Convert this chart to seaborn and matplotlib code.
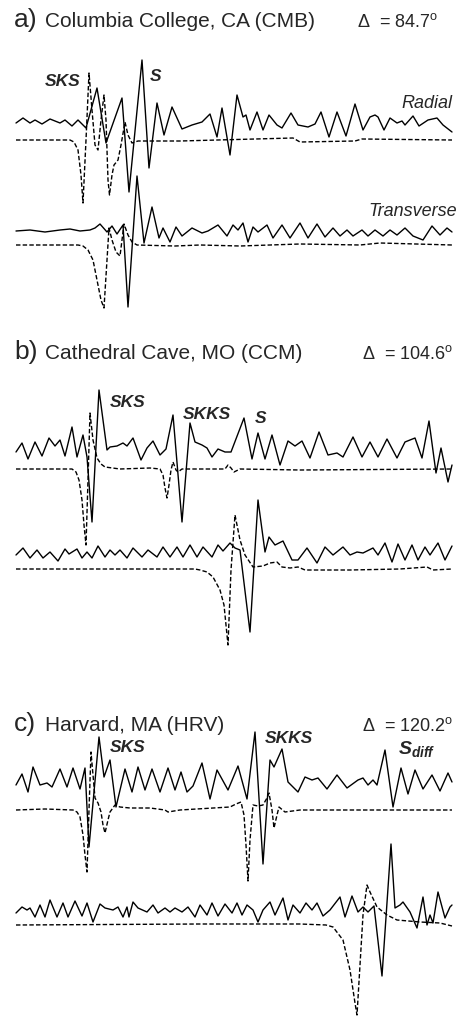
import matplotlib
matplotlib.use("Agg")
import matplotlib.pyplot as plt
import seaborn as sns

# Three-component records (radial / transverse), observed (solid) and synthetic (dashed).
# Each trace: (time sample, amplitude) pairs, amplitude positive upward.

cmb_radial_obs = [(16,0),(23,5),(30,0),(35,3),(42,-1),(50,4),(60,0),(65,3),(72,-3),(78,3),
    (83,-2),(86,-5),(97,35),(106,-20),(122,25),(129,-69),(142,63),(149,-45),(157,20),(164,-12),
    (172,16),(182,-6),(192,-2),(202,1),(210,9),(217,-14),(222,15),(230,-32),(237,28),(243,6),
    (246,8),(250,-7),(257,11),(263,-7),(269,8),(277,-2),(282,-5),(291,10),(298,-2),(308,-4),
    (315,-1),(321,11),(329,-14),(337,11),(346,-13),(355,19),(363,-7),(370,6),(375,8),(378,6),
    (384,-7),(390,5),(397,0),(402,2),(405,-2),(413,7),(419,-3),(428,3),(437,5),(443,-2),(452,-9)]
cmb_radial_syn = [(16,0),(70,0),(74,-2),(78,-10),(81,-35),(83,-63),(86,0),(89,67),(92,30),(95,-5),
    (98,-10),(101,20),(104,45),(106,20),(108,-40),(109.5,-55),(112,-35),(114,-25),(118,-20),
    (121,-5),(125,18),(128,5),(132,-3),(138,-1),(180,-1),(293,2),(300,-2),(355,-1),(362,1),(452,0)]
cmb_trans_obs = [(16,0),(30,1),(45,-1),(60,1),(70,2),(80,0),(90,1),(95,3),(100,7),(107,-1),(112,5),
    (117,-3),(123,6),(128,-76),(137,55),(144,-12),(152,24),(159,-7),(163,3),(170,-11),(176,4),
    (182,-5),(192,3),(202,-2),(208,0),(218,6),(227,-5),(233,6),(238,1),(243,8),(248,-11),(253,4),
    (258,-1),(267,6),(273,-7),(282,6),(290,-7),(300,8),(308,-7),(317,7),(325,-6),(333,3),(340,-5),
    (347,1),(353,-5),(362,1),(368,-5),(375,1),(383,-5),(390,1),(397,-4),(405,3),(413,-5),(423,-9),
    (432,5),(440,-4),(447,3),(452,-1)]
cmb_trans_syn = [(16,0),(78,0),(83,-1),(88,-5),(93,-15),(97,-35),(101,-55),(104,-63),(107,-15),
    (109,17),(112,5),(116,-7),(120,-11),(124,21),(128,10),(132,3),(137,0),(175,-1),(200,0),
    (240,-1),(300,1),(360,0),(380,2),(452,0)]

ccm_radial_obs = [(16,-2),(22,7),(28,-9),(35,8),(42,-6),(49,12),(55,4),(60,10),(65,-6),(72,23),
    (77,-7),(83,15),(87,-7),(92,-72),(99,60),(107,0),(110,3),(117,4),(123,7),(127,4),(133,12),
    (141,-10),(147,2),(153,9),(160,-5),(166,1),(173,35),(182,-72),(190,27),(195,8),(202,5),(207,2),
    (212,-7),(218,1),(225,-2),(231,-2),(244,32),(252,-9),(258,17),(265,-9),(272,15),(280,-15),
    (288,9),(295,4),(302,9),(310,-8),(319,18),(328,-5),(337,-3),(343,-7),(353,13),(362,-7),(370,8),
    (378,-7),(387,11),(397,-8),(405,8),(410,10),(415,12),(422,-8),(429,29),(436,-23),(441,2),
    (448,-32),(452,-15)]
ccm_radial_syn = [(16,0),(72,0),(76,-3),(79,-11),(82,-31),(84,-56),(86,-76),(88,-11),(90,56),(93,29),
    (97,11),(101,5),(105,2),(120,0),(150,1),(160,0),(163,-6),(165,-19),(167,-29),(169,-16),(171,-1),
    (173,7),(176,-1),(178,-3),(182,0),(225,0),(228,4),(231,1),(234,-3),(240,0),(300,-1),(452,0)]
ccm_trans_obs = [(16,-2),(23,5),(30,-5),(37,3),(43,-5),(50,1),(58,-8),(65,4),(69,-1),(77,4),(82,-5),
    (87,1),(92,-5),(98,7),(105,-4),(110,3),(115,-2),(120,3),(127,-5),(133,5),(142,-4),(148,3),
    (157,-4),(163,6),(170,-4),(177,6),(183,-4),(190,8),(197,-4),(203,6),(212,-4),(218,8),(223,2),
    (230,10),(235,5),(240,3),(250,-79),(258,53),(265,1),(269,16),(275,8),(283,12),(292,-7),(298,-7),
    (307,5),(317,-10),(325,6),(333,-2),(343,6),(350,-2),(357,1),(363,0),(373,5),(378,-2),(385,10),
    (392,-9),(398,9),(405,-7),(412,8),(418,-7),(425,6),(430,-2),(438,10),(445,-7),(452,7)]
ccm_trans_syn = [(16,0),(195,0),(200,-1),(207,-3),(213,-8),(220,-21),(224,-36),(226,-56),(228,-76),
    (231,-1),(235,54),(240,29),(245,14),(253,2),(263,3),(270,6),(277,7),(282,2),(290,1),(298,2),
    (305,-1),(350,-1),(400,0),(427,2),(433,-1),(452,0)]

hrv_radial_obs = [(16,-3),(22,8),(28,-10),(33,15),(40,-3),(47,-1),(52,-5),(60,13),(67,-5),(73,14),
    (80,-7),(85,14),(89,-65),(99,45),(104,5),(110,22),(116,-25),(125,13),(132,-10),(138,15),
    (145,-8),(152,13),(160,-10),(168,14),(175,-8),(181,10),(187,-10),(193,-4),(202,19),(210,-17),
    (217,12),(228,-8),(238,16),(247,-17),(255,50),(263,-82),(270,22),(274,15),(282,33),(288,0),
    (298,-10),(305,5),(312,2),(318,4),(327,-7),(337,7),(347,-6),(358,2),(363,4),(368,-3),(373,2),
    (377,-3),(385,32),(393,-25),(401,14),(408,-12),(415,12),(423,-7),(432,7),(440,-9),(448,9),(452,0)]
hrv_radial_syn = [(16,0),(45,1),(73,0),(77,-2),(80,-7),(83,-25),(85,-45),(87,-62),(89,0),(91,58),
    (93,35),(95,12),(98,7),(101,-2),(103,-15),(105,-23),(108,-10),(110,-2),(115,5),(120,3),(130,2),
    (150,2),(165,0),(168,-2),(180,0),(230,3),(236,6),(241,8),(244,-5),(246,-35),(248,-71),(250,-30),
    (253,5),(258,4),(263,5),(267,12),(269,17),(272,0),(274,-18),(277,-5),(279,3),(285,-2),(300,0),(452,0)]
hrv_trans_obs = [(16,-3),(22,3),(27,0),(30,2),(35,-7),(40,5),(45,-7),(50,10),(57,-7),(63,7),(68,-7),
    (75,9),(82,-6),(87,7),(93,-12),(100,6),(105,2),(113,0),(118,3),(123,-7),(127,3),(129,-7),(133,8),
    (138,2),(147,-2),(153,5),(158,-3),(165,2),(170,-2),(175,2),(182,-2),(188,3),(195,-7),(200,5),
    (207,-5),(212,7),(218,-6),(225,6),(232,-3),(237,7),(242,-5),(247,5),(253,0),(258,-12),(263,0),
    (270,8),(275,-5),(283,12),(288,-10),(293,5),(300,-3),(306,7),(312,0),(317,7),(323,-6),(330,0),
    (340,13),(345,-7),(352,14),(358,-2),(363,3),(368,-2),(374,4),(382,-66),(391,66),(395,2),(400,5),
    (403,8),(410,-2),(417,-18),(423,13),(427,-15),(430,-5),(433,-13),(438,18),(445,-8),(450,3),(452,5)]
hrv_trans_syn = [(16,0),(200,1),(300,1),(326,0),(333,-2),(343,-15),(350,-45),(355,-78),(357,-90),
    (360,-40),(363,10),(367,40),(370,33),(377,18),(387,10),(397,5),(420,3),(440,2),(452,-1)]

stations = ["Columbia College, CA (CMB)", "Cathedral Cave, MO (CCM)", "Harvard, MA (HRV)"]
panel_tags = ["a)", "b)", "c)"]
distances = ["84.7", "104.6", "120.2"]

# ---- layout -------------------------------------------------------------
sns.set_theme(style="white")
plt.rcParams["font.family"] = ["Liberation Sans", "DejaVu Sans"]
plt.rcParams["mathtext.fontset"] = "custom"
plt.rcParams["mathtext.rm"] = "Liberation Sans"
plt.rcParams["mathtext.it"] = "Liberation Sans:italic"
plt.rcParams["mathtext.sf"] = "Liberation Sans:italic:bold"

W, H = 465, 1018
fig = plt.figure(figsize=(W / 100, H / 100), dpi=100)
ax = fig.add_axes([0, 0, 1, 1])
ax.set_xlim(0, W)
ax.set_ylim(H, 0)
ax.axis("off")

traces = [
    (cmb_radial_obs, 123, "solid"), (cmb_radial_syn, 140, "dash"),
    (cmb_trans_obs, 231, "solid"), (cmb_trans_syn, 245, "dash"),
    (ccm_radial_obs, 450, "solid"), (ccm_radial_syn, 469, "dash"),
    (ccm_trans_obs, 553, "solid"), (ccm_trans_syn, 569, "dash"),
    (hrv_radial_obs, 782, "solid"), (hrv_radial_syn, 810, "dash"),
    (hrv_trans_obs, 910, "solid"), (hrv_trans_syn, 925, "dash"),
]
for pts, base, kind in traces:
    t = [p[0] for p in pts]
    y = [base - p[1] for p in pts]
    ls = "-" if kind == "solid" else (0, (3.2, 1.6))
    sns.lineplot(x=t, y=y, ax=ax, color="black", linewidth=1.0, linestyle=ls,
                 estimator=None, sort=False,
                 solid_joinstyle="round", dash_joinstyle="round")

title_y = [27, 359, 731]
delta_x = [357, 362, 362]
for tag, name, dist, ty, dx in zip(panel_tags, stations, distances, title_y, delta_x):
    ax.text(14, ty, tag, fontsize=19, va="baseline", ha="left")
    ax.text(45, ty, name, fontsize=15, va="baseline", ha="left")
    ax.text(dx, ty, "\u0394  = " + dist + r"$^{\mathrm{o}}$", fontsize=13,
            va="baseline", ha="left")

phase_kw = dict(fontsize=12.5, fontweight="bold", fontstyle="italic", va="baseline", ha="left")
ax.text(45, 86, "SKS", **phase_kw)
ax.text(150, 81, "S", **phase_kw)
ax.text(110, 407, "SKS", **phase_kw)
ax.text(183, 419, "SKKS", **phase_kw)
ax.text(255, 423, "S", **phase_kw)
ax.text(110, 752, "SKS", **phase_kw)
ax.text(265, 743, "SKKS", **phase_kw)
ax.text(398, 754, r"$\mathsf{S}_{\mathsf{diff}}$", fontsize=14, va="baseline", ha="left")

comp_kw = dict(fontsize=13, fontstyle="italic", va="baseline", ha="right")
ax.text(452, 108, "Radial", **comp_kw)
ax.text(457, 216, "Transverse", **comp_kw)

fig.savefig("out.png", dpi=100, facecolor="white")
